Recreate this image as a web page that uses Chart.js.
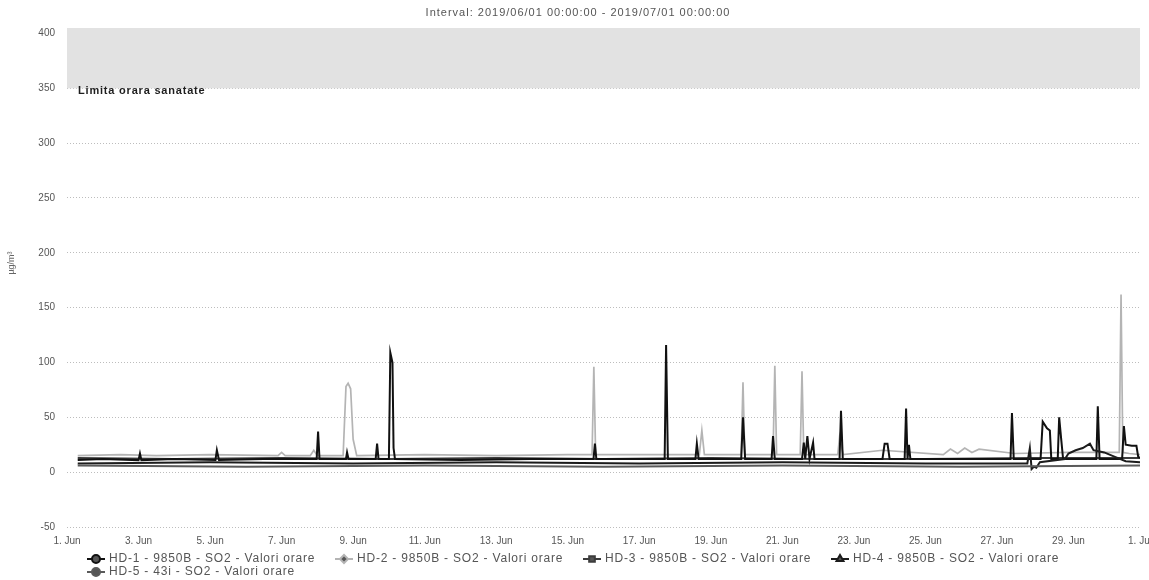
<!DOCTYPE html>
<html>
<head>
<meta charset="utf-8">
<script src="https://cdn.jsdelivr.net/npm/chart.js@4.4.1/dist/chart.umd.min.js"></script>
<style>
html,body{margin:0;padding:0;background:#fff;}
#wrap{width:1149px;height:580px;position:relative;}
</style>
</head>
<body>
<div id="wrap"><canvas id="c"></canvas></div>
<script>
// ---------- texts ----------
const titleText = 'Interval: 2019/06/01 00:00:00 - 2019/07/01 00:00:00';
const yAxisTitle = 'µg/m³';
const limitValue = 350;
const limitLabel = 'Limita orara sanatate';

// ---------- axes ----------
const yTickValues = [-50, 0, 50, 100, 150, 200, 250, 300, 350, 400];
const xTickDays = [0, 2, 4, 6, 8, 10, 12, 14, 16, 18, 20, 22, 24, 26, 28, 30];
const xTickLabels = ['1. Jun', '3. Jun', '5. Jun', '7. Jun', '9. Jun', '11. Jun', '13. Jun', '15. Jun',
                     '17. Jun', '19. Jun', '21. Jun', '23. Jun', '25. Jun', '27. Jun', '29. Jun', '1. Jul'];

// ---------- series (x = days since 1 Jun 00:00, y = µg/m³) ----------
const seriesNames = [
  'HD-1 - 9850B - SO2 - Valori orare',
  'HD-2 - 9850B - SO2 - Valori orare',
  'HD-3 - 9850B - SO2 - Valori orare',
  'HD-4 - 9850B - SO2 - Valori orare',
  'HD-5 - 43i - SO2 - Valori orare'
];

const hd1Days = [0.3, 1.0, 2.0, 2.04, 2.08, 3.0, 4.15, 4.19, 4.25, 5.5, 6.98, 7.02, 7.06, 7.8, 7.83, 7.87,
  8.63, 8.67, 8.71, 9.0, 9.04, 9.1, 9.13, 9.17, 11.0, 13.0, 14.72, 14.76, 14.8, 16.71, 16.75, 16.8,
  17.57, 17.61, 17.66, 18.85, 18.9, 18.96, 19.7, 19.74, 19.79, 20.55, 20.6, 20.64, 20.7, 20.76, 20.86, 20.9,
  21.6, 21.64, 21.69, 22.8, 22.86, 22.94, 23.0, 23.42, 23.46, 23.5, 23.54, 23.58, 25.0, 26.38, 26.42, 26.47,
  27.22, 27.28, 27.4, 27.48, 27.52, 27.7, 27.74, 27.8, 27.85, 28.78, 28.82, 28.87, 29.5, 29.55, 29.6, 29.77, 29.9, 29.95, 30.0];
const hd1Vals = [11, 12, 11, 17, 11, 12, 11, 20, 11, 12, 12, 37, 12, 12, 18, 12,
  12, 26, 12, 12, 109, 100, 22, 12, 11, 12, 12, 26, 12, 12, 116, 12,
  12, 26, 12, 12, 50, 12, 12, 33, 12, 12, 27, 12, 33, 12, 27, 12,
  12, 56, 12, 12, 26, 26, 12, 12, 58, 12, 25, 12, 12, 12, 54, 12,
  12, 46, 40, 38, 12, 12, 50, 29, 12, 12, 60, 12, 12, 42, 25, 24, 24, 14, 13];

const hd2Days = [0.3, 1.5, 2.5, 4.0, 5.9, 6.0, 6.1, 6.8, 6.9, 7.0, 7.72, 7.8, 7.86, 7.93, 8.0, 8.1, 10.0, 12.0, 14.0,
  14.68, 14.73, 14.78, 16.0, 17.68, 17.75, 17.82, 18.85, 18.9, 18.95, 19.74, 19.79, 19.84, 20.5, 20.55, 20.6,
  21.55, 21.6, 21.7, 22.8, 24.5, 24.7, 24.9, 25.1, 25.3, 25.5, 26.5, 28.0, 29.42, 29.47, 29.52, 29.7, 30.0];
const hd2Vals = [15, 16, 15, 16, 15, 18, 15, 15, 20, 15, 15, 78, 81, 76, 30, 15, 16, 15, 16,
  16, 96, 16, 16, 16, 38, 16, 16, 82, 16, 16, 97, 16, 16, 92, 16,
  16, 32, 16, 20, 16, 21, 17, 22, 18, 21, 17, 18, 18, 162, 18, 17, 16];

const hd3Days = [0.3, 3.0, 6.0, 9.0, 12.0, 15.0, 18.0, 21.0, 24.0, 27.0, 30.0];
const hd3Vals = [13, 12, 13, 12, 13, 12, 13, 12, 12, 13, 13];

const hd4Days = [0.3, 4.0, 8.0, 12.0, 16.0, 20.0, 24.0, 26.85, 26.92, 26.97, 27.03, 27.1, 27.2, 27.9, 28.0,
  28.2, 28.4, 28.6, 28.7, 29.0, 29.3, 29.6, 30.0];
const hd4Vals = [8, 9, 8, 9, 8, 9, 8, 8, 22, 3, 5, 4, 9, 12, 17, 20, 22, 26, 20, 18, 14, 10, 9];

const hd5Days = [0.3, 5.0, 10.0, 15.0, 20.0, 25.0, 30.0];
const hd5Vals = [6, 5, 6, 5, 6, 5, 6];

const seriesColors = ['#111111', '#b4b4b4', '#3c3c3c', '#1c1c1c', '#5a5a5a'];
const seriesMarkers = ['circle', 'rectRot', 'rect', 'triangle', 'triangleDown'];

// ---------- build datasets ----------
function pts(xs, ys) { return xs.map((x, i) => ({ x: x, y: ys[i] })); }
const seriesData = [pts(hd1Days, hd1Vals), pts(hd2Days, hd2Vals), pts(hd3Days, hd3Vals),
                    pts(hd4Days, hd4Vals), pts(hd5Days, hd5Vals)];
const drawOrder = [2, 4, 3, 1, 0];
const datasets = seriesNames.map((n, i) => ({
  label: n,
  data: seriesData[i],
  borderColor: seriesColors[i],
  backgroundColor: seriesColors[i],
  borderWidth: i === 1 ? 1.7 : 2,
  pointRadius: 0,
  tension: 0,
  fill: false,
  order: drawOrder[i]
}));

const FONT = '"Liberation Sans", Arial, Helvetica, sans-serif';

// plot band + label
const bandPlugin = {
  id: 'band',
  beforeDatasetsDraw(chart) {
    const { ctx, chartArea, scales } = chart;
    const y1 = scales.y.getPixelForValue(limitValue);
    ctx.save();
    ctx.fillStyle = '#e2e2e2';
    ctx.fillRect(chartArea.left, chartArea.top, chartArea.right - chartArea.left, y1 - chartArea.top);
    ctx.fillStyle = '#1e1e1e';
    ctx.font = 'bold 11px ' + FONT;
    ctx.letterSpacing = '0.8px';
    ctx.textBaseline = 'middle';
    ctx.textAlign = 'left';
    ctx.fillText(limitLabel, chartArea.left + 11, y1 + 3);
    ctx.restore();
  }
};

// title, y-axis title and legend
const decoPlugin = {
  id: 'deco',
  afterDraw(chart) {
    const { ctx } = chart;
    ctx.save();
    ctx.fillStyle = '#555';
    ctx.font = '11px ' + FONT;
    ctx.letterSpacing = '1px';
    ctx.textAlign = 'center';
    ctx.textBaseline = 'middle';
    ctx.fillText(titleText, 578, 13);

    ctx.save();
    ctx.translate(12, 263);
    ctx.rotate(-Math.PI / 2);
    ctx.font = '9px ' + FONT;
    ctx.letterSpacing = '0px';
    ctx.fillStyle = '#666';
    ctx.fillText(yAxisTitle, 0, 0);
    ctx.restore();

    ctx.font = '12px ' + FONT;
    ctx.letterSpacing = '0.8px';
    ctx.textAlign = 'left';
    let x = 87, y = 559;
    seriesNames.forEach((n, i) => {
      if (i === 4) { x = 87; y += 13; }
      ctx.strokeStyle = seriesColors[i];
      ctx.lineWidth = 2;
      ctx.beginPath(); ctx.moveTo(x, y); ctx.lineTo(x + 18, y); ctx.stroke();
      Chart.helpers.drawPoint(ctx, { pointStyle: seriesMarkers[i], radius: 4, borderWidth: 1 }, x + 9, y);
      ctx.fillStyle = '#555';
      ctx.fillText(n, x + 22, y);
      x += 248;
    });
    ctx.restore();
  }
};

Chart.defaults.font.family = FONT;

new Chart(document.getElementById('c'), {
  type: 'line',
  data: { datasets },
  plugins: [bandPlugin, decoPlugin],
  options: {
    responsive: true,
    maintainAspectRatio: false,
    animation: false,
    layout: { padding: { left: 0, right: 9, top: 28, bottom: 0 } },
    plugins: { legend: { display: false }, title: { display: false }, tooltip: { enabled: false } },
    elements: { point: { radius: 0 } },
    scales: {
      x: {
        type: 'linear',
        min: 0, max: 30,
        grid: { display: false },
        border: { display: false },
        afterBuildTicks(axis) { axis.ticks = xTickDays.map(v => ({ value: v })); },
        afterFit(axis) { axis.height = 53; axis.paddingLeft = 0; axis.paddingRight = 0; },
        ticks: {
          autoSkip: false, maxRotation: 0, padding: 0,
          color: '#555', font: { size: 10 },
          callback(v) { const k = xTickDays.indexOf(v); return k >= 0 ? xTickLabels[k] : ''; }
        }
      },
      y: {
        min: -50, max: 405,
        grid: { color: '#bdbdbd', lineWidth: 1, drawTicks: false },
        border: { display: false, dash: [1, 2] },
        afterBuildTicks(axis) { axis.ticks = yTickValues.map(v => ({ value: v })); },
        afterFit(axis) { axis.width = 67; },
        ticks: { padding: 12, color: '#555', font: { size: 10 } }
      }
    }
  }
});
</script>
</body>
</html>
